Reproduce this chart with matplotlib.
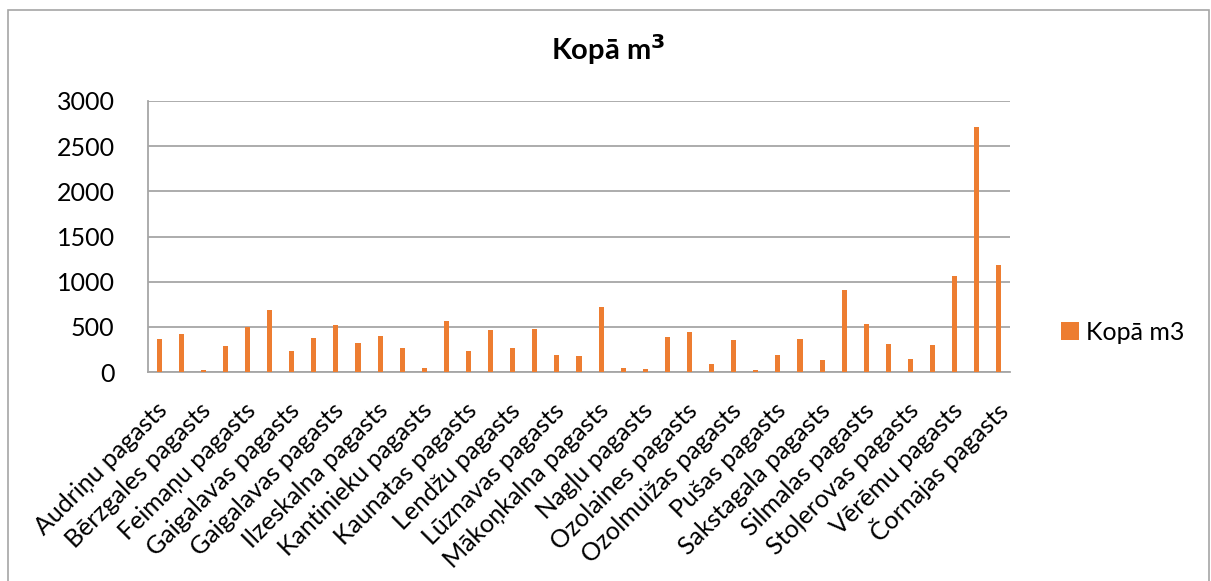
import numpy as np
import matplotlib
matplotlib.use("Agg")
import matplotlib.pyplot as plt
from matplotlib.patches import Rectangle
import matplotlib.transforms as mtransforms

plt.rcParams['font.family'] = ['Lato', 'DejaVu Sans']

# 39 rows, only every other one gets a visible label (as in the Excel chart)
categories = [
    "Audriņu pagasts", "Audriņu pagasts", "Bērzgales pagasts", "Dricānu pagasts",
    "Feimaņu pagasts", "Gaigalavas pagasts", "Gaigalavas pagasts", "Gaigalavas pagasts",
    "Gaigalavas pagasts", "Griškānu pagasts", "Ilzeskalna pagasts", "Ilzeskalna pagasts",
    "Kantinieku pagasts", "Kantinieku pagasts", "Kaunatas pagasts", "Kaunatas pagasts",
    "Lendžu pagasts", "Lendžu pagasts", "Lūznavas pagasts", "Maltas pagasts",
    "Mākoņkalna pagasts", "Mākoņkalna pagasts", "Nagļu pagasts", "Nautrēnu pagasts",
    "Ozolaines pagasts", "Ozolaines pagasts", "Ozolmuižas pagasts", "Ozolmuižas pagasts",
    "Pušas pagasts", "Rikavas pagasts", "Sakstagala pagasts", "Sakstagala pagasts",
    "Silmalas pagasts", "Silmalas pagasts", "Stoļerovas pagasts", "Stružānu pagasts",
    "Vērēmu pagasts", "Vērēmu pagasts", "Čornajas pagasts",
]
kopa_m3 = [362, 421, 20, 288, 495, 687, 232, 376, 520, 325,
           402, 265, 44, 561, 232, 461, 262, 480, 188, 174,
           720, 48, 33, 384, 446, 92, 354, 26, 188, 365,
           133, 908, 531, 310, 144, 299, 1067, 2712, 1190]
yticks = [0, 500, 1000, 1500, 2000, 2500, 3000]

W, H = 1211, 581
fig = plt.figure(figsize=(W / 100, H / 100), dpi=100)
ax = fig.add_axes([148 / W, 1 - 372 / H, (1010 - 148) / W, (372 - 101) / H])

x = np.arange(len(categories))
ax.bar(x, kopa_m3, width=0.23, color="#ED7D31", label="Kopā m3", zorder=3)

ax.set_xlim(-0.5, len(categories) - 0.5)
ax.set_ylim(0, 3000)
ax.set_yticks(yticks)
ax.set_yticklabels([str(v) for v in yticks], fontsize=18)
ax.yaxis.grid(True, color="#a6a6a6", linewidth=1.3, zorder=0)
ax.tick_params(axis="y", length=0, pad=24)
ax.tick_params(axis="x", length=0, pad=0)

ax.set_xticks(x[::2])
labels = ax.set_xticklabels(categories[::2], rotation=45, ha="right",
                            va="center", rotation_mode="anchor", fontsize=18)
off = mtransforms.ScaledTranslation(3 / 72, -25 / 72, fig.dpi_scale_trans)
for lab in labels:
    lab.set_transform(lab.get_transform() + off)

for s in ["top", "right"]:
    ax.spines[s].set_visible(False)
ax.spines["left"].set_color("#a6a6a6")
ax.spines["bottom"].set_color("#a6a6a6")
ax.spines["left"].set_linewidth(1.3)
ax.spines["bottom"].set_linewidth(1.3)

fig.text(608 / W, 1 - 50 / H, "Kopā m$^\\mathbf{3}$", ha="center", va="center",
         fontsize=21, fontweight="bold")

ax.legend(loc="center left", bbox_to_anchor=(1061 / W, 1 - 332 / H),
          bbox_transform=fig.transFigure, frameon=False, fontsize=18,
          handlelength=0.7, handleheight=0.7, handletextpad=0.3,
          borderpad=0, borderaxespad=0)

# outer chart frame
fig.patches.append(Rectangle((8 / W, -0.05), (1209 - 8) / W, 1.05 - 10 / H,
                             transform=fig.transFigure, fill=False,
                             edgecolor="#a6a6a6", linewidth=1.2))

fig.savefig("out.png", dpi=100)
